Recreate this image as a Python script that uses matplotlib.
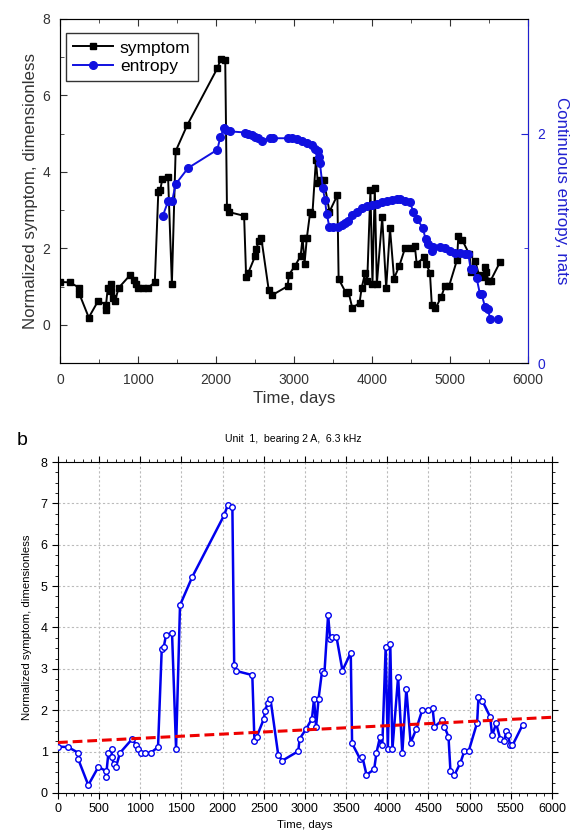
import matplotlib
matplotlib.use("Agg")
import matplotlib.pyplot as plt
from matplotlib.ticker import MultipleLocator

plt.rcParams['font.family'] = ['Liberation Sans', 'DejaVu Sans']

# symptom series (days, normalized value)
days = [0, 122, 247, 247, 368, 490, 583, 583, 612, 652, 652, 680, 705, 753,
        903, 948, 976, 1004, 1060, 1126, 1215, 1260, 1284, 1312, 1385, 1434,
        1482, 1630, 2017, 2062, 2118, 2140, 2163, 2360, 2386, 2414, 2500, 2516,
        2548, 2580, 2675, 2724, 2918, 2935, 3015, 3085, 3110, 3135, 3165, 3208,
        3236, 3281, 3305, 3329, 3382, 3455, 3556, 3572, 3670, 3698, 3747, 3840,
        3868, 3911, 3939, 3980, 4006, 4036, 4062, 4131, 4182, 4231, 4283, 4352,
        4423, 4500, 4550, 4573, 4666, 4694, 4743, 4767, 4814, 4886, 4935, 4988,
        5091, 5107, 5154, 5249, 5273, 5322, 5371, 5419, 5447, 5468, 5492, 5520,
        5642]
symptom = [1.12, 1.11, 0.97, 0.81, 0.19, 0.63, 0.53, 0.39, 0.97, 1.07, 0.88,
           0.69, 0.63, 0.97, 1.31, 1.16, 1.07, 0.97, 0.97, 0.97, 1.11, 3.48,
           3.52, 3.82, 3.87, 1.07, 4.54, 5.22, 6.71, 6.96, 6.92, 3.09, 2.95,
           2.85, 1.26, 1.36, 1.79, 1.99, 2.18, 2.28, 0.92, 0.78, 1.01, 1.31,
           1.55, 1.80, 2.28, 1.60, 2.28, 2.96, 2.90, 4.31, 3.72, 3.78, 3.78,
           2.96, 3.39, 1.20, 0.82, 0.87, 0.44, 0.57, 0.97, 1.35, 1.15, 3.53,
           1.06, 3.59, 1.06, 2.81, 0.96, 2.52, 1.21, 1.55, 2.00, 2.00, 2.05,
           1.60, 1.76, 1.60, 1.36, 0.52, 0.43, 0.72, 1.01, 1.01, 1.70, 2.32,
           2.23, 1.84, 1.39, 1.68, 1.31, 1.26, 1.51, 1.39, 1.15, 1.15, 1.64]

# continuous entropy series (days, nats)
ent_days = [1316, 1385, 1436, 1483, 1641, 2017, 2055, 2103, 2133, 2175, 2372,
            2415, 2457, 2500, 2543, 2586, 2692, 2726, 2927, 2970, 3034, 3098,
            3162, 3226, 3269, 3303, 3321, 3333, 3368, 3397, 3419, 3453, 3504,
            3568, 3611, 3654, 3697, 3739, 3803, 3868, 3932, 3996, 4060, 4124,
            4188, 4252, 4316, 4359, 4423, 4487, 4530, 4573, 4650, 4688, 4714,
            4765, 4786, 4872, 4936, 5000, 5064, 5128, 5192, 5235, 5265, 5299,
            5342, 5385, 5406, 5449, 5491, 5513, 5620]
entropy = [1.28, 1.41, 1.41, 1.56, 1.70, 1.86, 1.97, 2.05, 2.03, 2.02, 2.01,
           2.00, 1.99, 1.97, 1.96, 1.94, 1.96, 1.96, 1.96, 1.96, 1.95, 1.94,
           1.92, 1.90, 1.87, 1.85, 1.80, 1.74, 1.53, 1.42, 1.30, 1.19, 1.19,
           1.19, 1.20, 1.22, 1.24, 1.29, 1.32, 1.35, 1.37, 1.38, 1.39, 1.40,
           1.41, 1.42, 1.43, 1.43, 1.41, 1.40, 1.32, 1.26, 1.18, 1.08, 1.04,
           0.98, 1.01, 1.01, 1.00, 0.98, 0.96, 0.96, 0.95, 0.95, 0.82, 0.82,
           0.74, 0.60, 0.60, 0.49, 0.47, 0.38, 0.38]

# linear trend (end points)
trend_days = [0, 6000]
trend_vals = [1.22, 1.83]

fig = plt.figure(figsize=(5.72, 8.32), dpi=100)

# ---- panel a ----
ax1 = fig.add_axes([0.105, 0.5637, 0.818, 0.4135])
ax1.plot(days, symptom, color='black', lw=1.4, marker='s', ms=4.8,
         label='symptom')
ax1.set_xlim(0, 6000)
ax1.set_ylim(-1, 8)
ax1.xaxis.set_major_locator(MultipleLocator(1000))
ax1.xaxis.set_minor_locator(MultipleLocator(500))
ax1.yaxis.set_major_locator(MultipleLocator(2))
ax1.yaxis.set_minor_locator(MultipleLocator(1))
ax1.tick_params(which='both', direction='in', top=True, labelsize=10,
                colors='#333333')
ax1.tick_params(which='major', length=5)
ax1.tick_params(which='minor', length=3)
ax1.tick_params(axis='x', pad=7)
ax1.tick_params(axis='y', pad=7)
for s in ax1.spines.values():
    s.set_color('#444444')
ax1.set_xlabel('Time, days', fontsize=12.2, color='#333333', labelpad=3)
ax1.set_ylabel('Normalized symptom, dimensionless', fontsize=12.2,
               color='#333333', labelpad=3)

ax2 = ax1.twinx()
ax2.plot(ent_days, entropy, color='#1010e0', lw=1.4, marker='o', ms=5.5,
         label='entropy')
ax2.set_ylim(0, 3)
ax2.yaxis.set_major_locator(MultipleLocator(2))
ax2.yaxis.set_minor_locator(MultipleLocator(1))
ax2.tick_params(which='both', direction='in', colors='#2020d0',
                labelsize=10, pad=7)
ax2.tick_params(which='major', length=5)
ax2.tick_params(which='minor', length=3)
ax2.spines['right'].set_color('#2020d0')
ax2.set_ylabel('Continuous entropy, nats', fontsize=12.2, color='#2020d0',
               rotation=270, labelpad=17)

h1, l1 = ax1.get_legend_handles_labels()
h2, l2 = ax2.get_legend_handles_labels()
leg = ax1.legend(h1 + h2, l1 + l2, loc='upper left',
                 bbox_to_anchor=(0.013, 0.958), borderaxespad=0,
                 fontsize=12.5, fancybox=False, edgecolor='#333333',
                 framealpha=1, handlelength=2.3, labelspacing=0.2,
                 borderpad=0.4, handletextpad=0.4)
leg.get_frame().set_linewidth(1.0)

# ---- panel b ----
ax3 = fig.add_axes([0.1014, 0.0469, 0.8636, 0.3978])
ax3.plot(days, symptom, color='#0000ee', lw=1.8, marker='o', ms=4,
         mfc='white', mec='#0000ee', mew=1.0, zorder=3)
ax3.plot(trend_days, trend_vals, color='#ee0000', lw=2.2,
         dashes=(3.2, 1.6), zorder=4)
ax3.set_xlim(0, 6000)
ax3.set_ylim(0, 8)
ax3.xaxis.set_major_locator(MultipleLocator(500))
ax3.xaxis.set_minor_locator(MultipleLocator(100))
ax3.yaxis.set_major_locator(MultipleLocator(1))
ax3.yaxis.set_minor_locator(MultipleLocator(0.25))
ax3.grid(True, which='major', color='#bbbbbb', ls=(0, (2, 2)), lw=0.8)
ax3.tick_params(which='both', direction='out', top=True, right=True,
                labelsize=9, colors='black')
ax3.tick_params(which='major', length=4)
ax3.tick_params(which='minor', length=2.5)
ax3.set_xlabel('Time, days', fontsize=8.2, labelpad=3)
ax3.set_ylabel('Normalized symptom, dimensionless', fontsize=8.2,
               labelpad=6)

fig.text(0.512, 0.4725, 'Unit  1,  bearing 2 A,  6.3 kHz', fontsize=7.6,
         ha='center', va='center')
fig.text(0.030, 0.4705, 'b', fontsize=14, ha='left', va='center')

fig.savefig('out.png', dpi=100)
